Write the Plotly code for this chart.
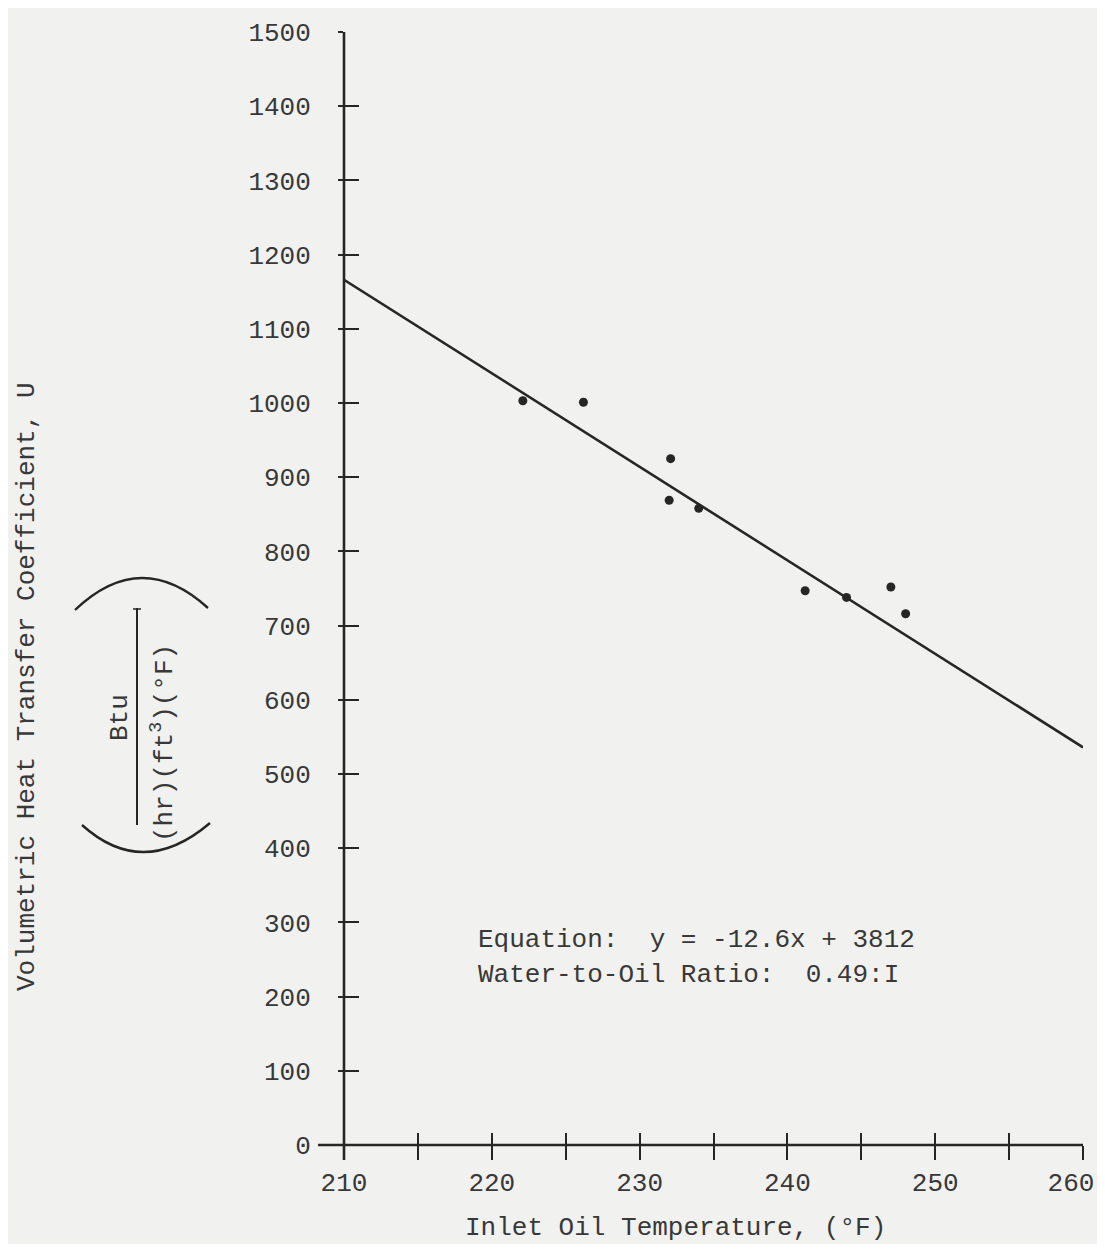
import plotly.graph_objects as go

# ---- data ----
inlet_temp_F = [222.1, 226.2, 232.1, 232.0, 234.0, 241.2, 244.0, 247.0, 248.0]
u_coeff = [1003, 1001, 925, 869, 858, 747, 738, 752, 716]

fit_slope = -12.6
fit_intercept = 3812
fit_x = [210, 260]
fit_y = [fit_slope * x + fit_intercept for x in fit_x]

x_tick_vals = [210, 220, 230, 240, 250]
x_tick_text = ["210", "220", "230", "240", "250"]
x_edge_tick_vals = [260]
x_edge_tick_text = ["260"]
x_minor_step = 5
y_tick_vals = list(range(0, 1501, 100))
y_tick_text = [str(v) for v in y_tick_vals]

# ---- layout geometry (pixels, in window coordinates) ----
OFF = 8  # page body margin
WIN_W, WIN_H = 1105, 1252
W, H = WIN_W - 2 * OFF, WIN_H - 2 * OFF
AX_L, AX_R, AX_T, AX_B = 344, 1083, 32, 1145  # plot area in window coords
L = AX_L - OFF
T = AX_T - OFF
R = W - (AX_R - OFF)
B = H - (AX_B - OFF)
PW = AX_R - AX_L
PH = AX_B - AX_T

def px(x):
    return (x - AX_L) / PW

def py(y):
    return (AX_B - y) / PH

FONT = "Liberation Mono"
INK = "#262626"
TXT = "#383838"
BG = "#f1f1ef"

fig = go.Figure()
fig.add_trace(go.Scatter(x=fit_x, y=fit_y, mode="lines",
                         line=dict(color=INK, width=2.6), showlegend=False,
                         hoverinfo="skip"))
fig.add_trace(go.Scatter(x=inlet_temp_F, y=u_coeff, mode="markers",
                         marker=dict(color=INK, size=9, symbol="circle"),
                         showlegend=False))
fig.add_trace(go.Scatter(x=[], y=[], xaxis="x2", yaxis="y2",
                         showlegend=False, hoverinfo="skip"))
fig.add_trace(go.Scatter(x=[], y=[], xaxis="x3", yaxis="y",
                         showlegend=False, hoverinfo="skip"))

axis_common = dict(showgrid=False, zeroline=False, showline=False,
                   tickcolor=INK, tickwidth=1.8, automargin=False)

fig.update_layout(
    width=W, height=H,
    margin=dict(l=L, r=R, t=T, b=B, autoexpand=False),
    paper_bgcolor=BG, plot_bgcolor=BG,
    font=dict(family=FONT, color=TXT, size=26),
    xaxis=dict(range=[210, 260], tickmode="array", tickvals=x_tick_vals,
               ticktext=x_tick_text, ticks="outside", ticklen=14,
               minor=dict(tick0=210, dtick=x_minor_step, ticks="outside",
                          ticklen=14, tickcolor=INK, tickwidth=1.8, showgrid=False),
               tickfont=dict(family=FONT, size=26, color=TXT),
               **axis_common),
    xaxis3=dict(range=[210, 260], overlaying="x", anchor="y", side="bottom",
                tickmode="array", tickvals=x_edge_tick_vals,
                ticktext=x_edge_tick_text, ticks="outside", ticklen=14,
                ticklabelshift=-12, ticklabeloverflow="allow",
                tickfont=dict(family=FONT, size=26, color=TXT),
                **axis_common),
    yaxis=dict(range=[0, 1500], tickmode="array", tickvals=y_tick_vals,
               ticktext=y_tick_text, ticks="outside", ticklen=5,
               ticklabelstandoff=22,
               tickfont=dict(family=FONT, size=26, color=TXT),
               **axis_common),
    xaxis2=dict(range=[210, 260], overlaying="x", anchor="y2", side="bottom",
                tickmode="array", tickvals=x_tick_vals + x_edge_tick_vals,
                ticks="inside", ticklen=12, showticklabels=False,
                minor=dict(tick0=210, dtick=x_minor_step, ticks="inside",
                           ticklen=12, tickcolor=INK, tickwidth=1.8, showgrid=False),
                **axis_common),
    yaxis2=dict(range=[0, 1500], overlaying="y", anchor="x2", side="left",
                tickmode="array", tickvals=y_tick_vals, ticks="inside",
                ticklen=15, showticklabels=False, **axis_common),
)

# axis lines
fig.add_shape(type="line", xref="paper", yref="paper",
              x0=px(318), x1=1, y0=0, y1=0, line=dict(color=INK, width=2.6))
fig.add_shape(type="line", xref="paper", yref="paper",
              x0=0, x1=0, y0=py(1160), y1=1, line=dict(color=INK, width=2.6))

# unit bracket arcs and fraction line
def P(x, y):
    return f"{px(x):.5f},{py(y):.5f}"

fig.add_shape(type="path", xref="paper", yref="paper",
              path=f"M {P(75, 610)} Q {P(141, 547)} {P(208, 608)}",
              line=dict(color=INK, width=2.4))
fig.add_shape(type="path", xref="paper", yref="paper",
              path=f"M {P(82, 825)} Q {P(143, 880)} {P(210, 823)}",
              line=dict(color=INK, width=2.4))
fig.add_shape(type="line", xref="paper", yref="paper",
              x0=px(137), x1=px(137), y0=py(608), y1=py(825),
              line=dict(color=INK, width=2))
fig.add_shape(type="line", xref="paper", yref="paper",
              x0=px(133), x1=px(141), y0=py(609), y1=py(609),
              line=dict(color=INK, width=1.5))

def ann(text, x, y, angle=0, xanchor="center", size=26):
    fig.add_annotation(text=text, xref="paper", yref="paper", x=px(x), y=py(y),
                       xanchor=xanchor, yanchor="middle", showarrow=False,
                       textangle=angle, font=dict(family=FONT, size=size, color=TXT))

ann("Volumetric Heat Transfer Coefficient, U", 27, 687, angle=-90)
ann("Btu", 120, 718, angle=-90)
ann("(hr)(ft<sup>3</sup>)(°F)", 163, 743, angle=-90)
ann("Inlet Oil Temperature, (°F)", 675, 1228)
ann("Equation:  y = -12.6x + 3812", 476, 940, xanchor="left")
ann("Water-to-Oil Ratio:  0.49:I", 476, 975, xanchor="left")

fig.write_html("out.html")
